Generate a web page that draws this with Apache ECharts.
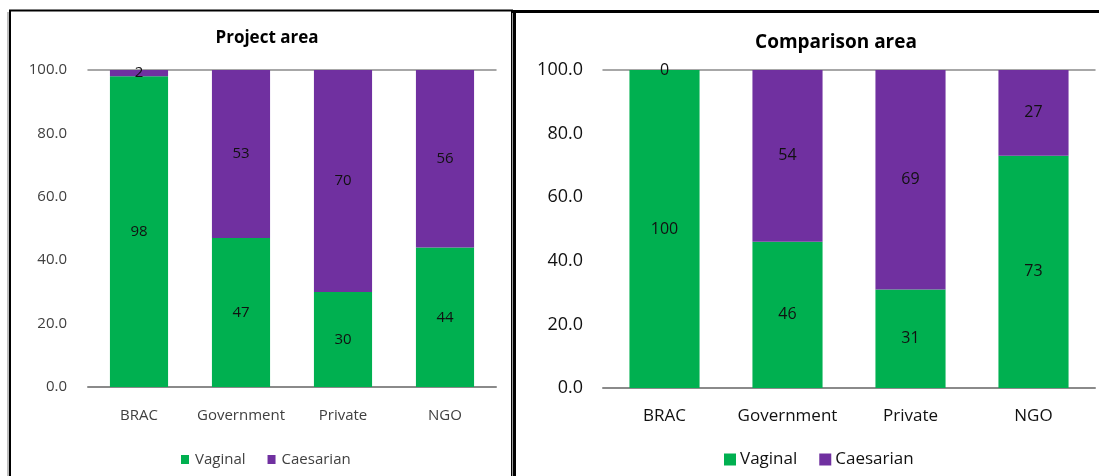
<!DOCTYPE html>
<html>
<head>
<meta charset="utf-8">
<script src="https://cdn.jsdelivr.net/npm/echarts@6/dist/echarts.min.js"></script>
<style>
html,body{margin:0;padding:0;background:#fff;}
#c{width:1099px;height:476px;}
</style>
</head>
<body>
<div id="c"></div>
<script>
const categories = ['BRAC', 'Government', 'Private', 'NGO'];
const seriesNames = ['Vaginal', 'Caesarian'];
const projectVaginal = [98, 47, 30, 44];
const projectCaesarian = [2, 53, 70, 56];
const comparisonVaginal = [100, 46, 31, 73];
const comparisonCaesarian = [0, 54, 69, 27];
const titles = ['Project area', 'Comparison area'];

const FONT = '"Open Sans", Lato, sans-serif';
const GREEN = '#00B050';
const PURPLE = '#7030A0';
const AXIS = '#8a8a8a';

const chart = echarts.init(document.getElementById('c'), null, {renderer: 'canvas'});

function xAxes(gridIndex, fs, color, margin) {
  return [
    {
      type: 'category', gridIndex: gridIndex, data: categories, position: 'bottom',
      axisLine: {show: true, lineStyle: {color: AXIS, width: 2}},
      axisTick: {show: false},
      axisLabel: {color: color, fontFamily: FONT, fontSize: fs, margin: margin, interval: 0},
      splitLine: {show: false}
    },
    {
      type: 'category', gridIndex: gridIndex, data: categories, position: 'top',
      axisLine: {show: true, lineStyle: {color: AXIS, width: 1.5}},
      axisTick: {show: false}, axisLabel: {show: false}, splitLine: {show: false}
    }
  ];
}
function yAxis(gridIndex, fs, color, margin) {
  return {
    type: 'value', gridIndex: gridIndex, min: 0, max: 100, interval: 20,
    axisLine: {show: false}, axisTick: {show: false}, splitLine: {show: false},
    axisLabel: {color: color, fontFamily: FONT, fontSize: fs, margin: margin,
      formatter: v => v.toFixed(1)}
  };
}
function bar(name, data, xi, yi, color, fs) {
  return {
    name: name, type: 'bar', stack: 's' + yi, xAxisIndex: xi, yAxisIndex: yi,
    data: data, barWidth: '57%', itemStyle: {color: color},
    label: {show: true, position: 'inside', color: '#111', fontFamily: FONT, fontSize: fs},
    emphasis: {disabled: true}
  };
}

chart.setOption({
  animation: false,
  backgroundColor: '#fff',
  title: [
    {text: titles[0], left: 262, top: 25, textAlign: 'center',
     textStyle: {fontFamily: FONT, fontSize: 17, fontWeight: 'bold', color: '#000'}},
    {text: titles[1], left: 831, top: 28, textAlign: 'center',
     textStyle: {fontFamily: FONT, fontSize: 19, fontWeight: 'bold', color: '#000'}}
  ],
  legend: [
    {data: seriesNames, left: 181, top: 452, padding: 0, itemWidth: 8, itemHeight: 9, itemGap: 22,
     icon: 'rect', textStyle: {fontFamily: FONT, fontSize: 15, color: '#404040', padding: [0, 0, 0, 1]}},
    {data: seriesNames, left: 724, top: 451, padding: 0, itemWidth: 12, itemHeight: 12, itemGap: 22,
     icon: 'rect', textStyle: {fontFamily: FONT, fontSize: 17, color: '#111', padding: [0, 0, 0, -1]}}
  ],
  grid: [
    {left: 88, top: 70, width: 408, height: 317, containLabel: false},
    {left: 603, top: 70, width: 492, height: 318, containLabel: false}
  ],
  xAxis: [].concat(xAxes(0, 15, '#404040', 21), xAxes(1, 17, '#111', 20)),
  yAxis: [yAxis(0, 15, '#404040', 21), yAxis(1, 18, '#111', 20)],
  series: [
    bar(seriesNames[0], projectVaginal, 0, 0, GREEN, 15),
    bar(seriesNames[1], projectCaesarian, 0, 0, PURPLE, 15),
    bar(seriesNames[0], comparisonVaginal, 2, 1, GREEN, 16),
    bar(seriesNames[1], comparisonCaesarian, 2, 1, PURPLE, 16)
  ],
  graphic: [
    {type: 'line', shape: {x1: 8, y1: 12, x2: 8, y2: 476}, style: {stroke: '#bdbdbd', lineWidth: 2}, silent: true},
    {type: 'rect', shape: {x: 10, y: 10.5, width: 502, height: 520}, style: {fill: 'none', stroke: '#000', lineWidth: 2}, silent: true},
    {type: 'line', shape: {x1: 512.5, y1: 13, x2: 512.5, y2: 476}, style: {stroke: '#9a9a9a', lineWidth: 1}, silent: true},
    {type: 'rect', shape: {x: 514.5, y: 11.5, width: 700, height: 600}, style: {fill: 'none', stroke: '#000', lineWidth: 3}, silent: true}
  ]
});
</script>
</body>
</html>
